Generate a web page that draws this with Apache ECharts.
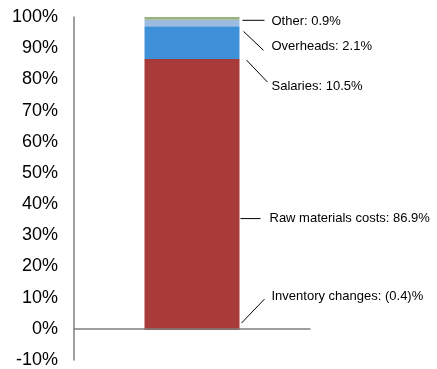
<!DOCTYPE html>
<html>
<head>
<meta charset="utf-8">
<script src="https://cdn.jsdelivr.net/npm/echarts@6/dist/echarts.min.js"></script>
<style>
  html, body { margin: 0; padding: 0; background: #fff; }
  #chart { width: 437px; height: 369px; }
</style>
</head>
<body>
<div id="chart"></div>
<script>
// Cost structure of a single product, stacked as one column
const categories = ['Cost structure'];
const seriesNames = ['Inventory changes', 'Raw materials costs', 'Salaries', 'Overheads', 'Other'];
const seriesValues = [-0.4, 86.9, 10.5, 2.1, 0.9];
const yTickValues = [-10, 0, 10, 20, 30, 40, 50, 60, 70, 80, 90, 100];

const colors = ['#7e2828', '#a93a3a', '#3e91d8', '#9bbbe1', '#9bb180'];
const BAR_WIDTH = 95;
const LABEL_FONT = '13px "Liberation Sans", Arial, sans-serif';

// Leader-line / label placement relative to each segment (pixels).
// anchor: 'bottom' = segment bottom edge, 'mid' = segment centre
const labelPlacement = [
  { anchor: 'bottom', start: [2, -7],  end: [25, -31], label: [32, -34] },
  { anchor: 'mid',    start: [1, 24],  end: [21, 24],  label: [30, 24] },
  { anchor: 'bottom', start: [7, 1],   end: [28, 23],  label: [32, 27] },
  { anchor: 'bottom', start: [4, 5],   end: [24, 24],  label: [32, 20] },
  { anchor: 'bottom', start: [3, 0.5], end: [25, 0.5], label: [32, 1.5] }
];

function fmtPct(v) {
  return v < 0 ? '(' + Math.abs(v).toFixed(1) + ')%' : v.toFixed(1) + '%';
}

// Running totals of the stack (all values stacked in sequence)
const segments = [];
let running = 0;
seriesValues.forEach(function (v, i) {
  const a = running, b = running + v;
  segments.push([0, Math.min(a, b), Math.max(a, b), i]);
  running = b;
});

const barSeries = seriesNames.map(function (name, i) {
  return {
    name: name,
    type: 'bar',
    stack: 'cost',
    stackStrategy: 'all',
    barWidth: BAR_WIDTH,
    data: [seriesValues[i]],
    itemStyle: { color: colors[i] }
  };
});

// Callout labels with leader lines for every segment
const calloutSeries = {
  type: 'custom',
  silent: true,
  z: 10,
  data: segments,
  renderItem: function (params, api) {
    const cat = api.value(0);
    const lo = api.value(1), hi = api.value(2);
    const i = api.value(3);
    const pTop = api.coord([cat, hi]);
    const pBot = api.coord([cat, lo]);
    const p = labelPlacement[i];
    const xr = pTop[0] + BAR_WIDTH / 2;
    const yb = p.anchor === 'mid' ? (pTop[1] + pBot[1]) / 2 : Math.max(pTop[1], pBot[1]);
    return {
      type: 'group',
      children: [
        {
          type: 'line',
          shape: { x1: xr + p.start[0], y1: yb + p.start[1], x2: xr + p.end[0], y2: yb + p.end[1] },
          style: { stroke: '#000', lineWidth: 1 }
        },
        {
          type: 'text',
          x: xr + p.label[0],
          y: yb + p.label[1],
          style: {
            text: seriesNames[i] + ': ' + fmtPct(seriesValues[i]),
            fill: '#000',
            font: LABEL_FONT,
            align: 'left',
            verticalAlign: 'middle'
          }
        }
      ]
    };
  }
};

const chart = echarts.init(document.getElementById('chart'), null, { renderer: 'canvas' });
chart.setOption({
  animation: false,
  backgroundColor: '#fff',
  grid: { left: 74, right: 127, top: 17, bottom: 8, containLabel: false },
  xAxis: {
    type: 'category',
    data: categories,
    z: 5,
    axisLine: { show: true, onZero: true, lineStyle: { color: '#7f7f7f', width: 1.5 } },
    axisTick: { show: false },
    axisLabel: { show: false },
    splitLine: { show: false }
  },
  yAxis: {
    type: 'value',
    min: yTickValues[0],
    max: yTickValues[yTickValues.length - 1],
    interval: yTickValues[1] - yTickValues[0],
    z: 5,
    axisLine: { show: true, lineStyle: { color: '#7f7f7f', width: 1.5 } },
    axisTick: { show: false },
    splitLine: { show: false },
    axisLabel: {
      margin: 16,
      formatter: '{value}%',
      fontFamily: 'Liberation Sans, Arial, sans-serif',
      fontSize: 18,
      color: '#000'
    }
  },
  series: barSeries.concat([calloutSeries])
});
</script>
</body>
</html>
